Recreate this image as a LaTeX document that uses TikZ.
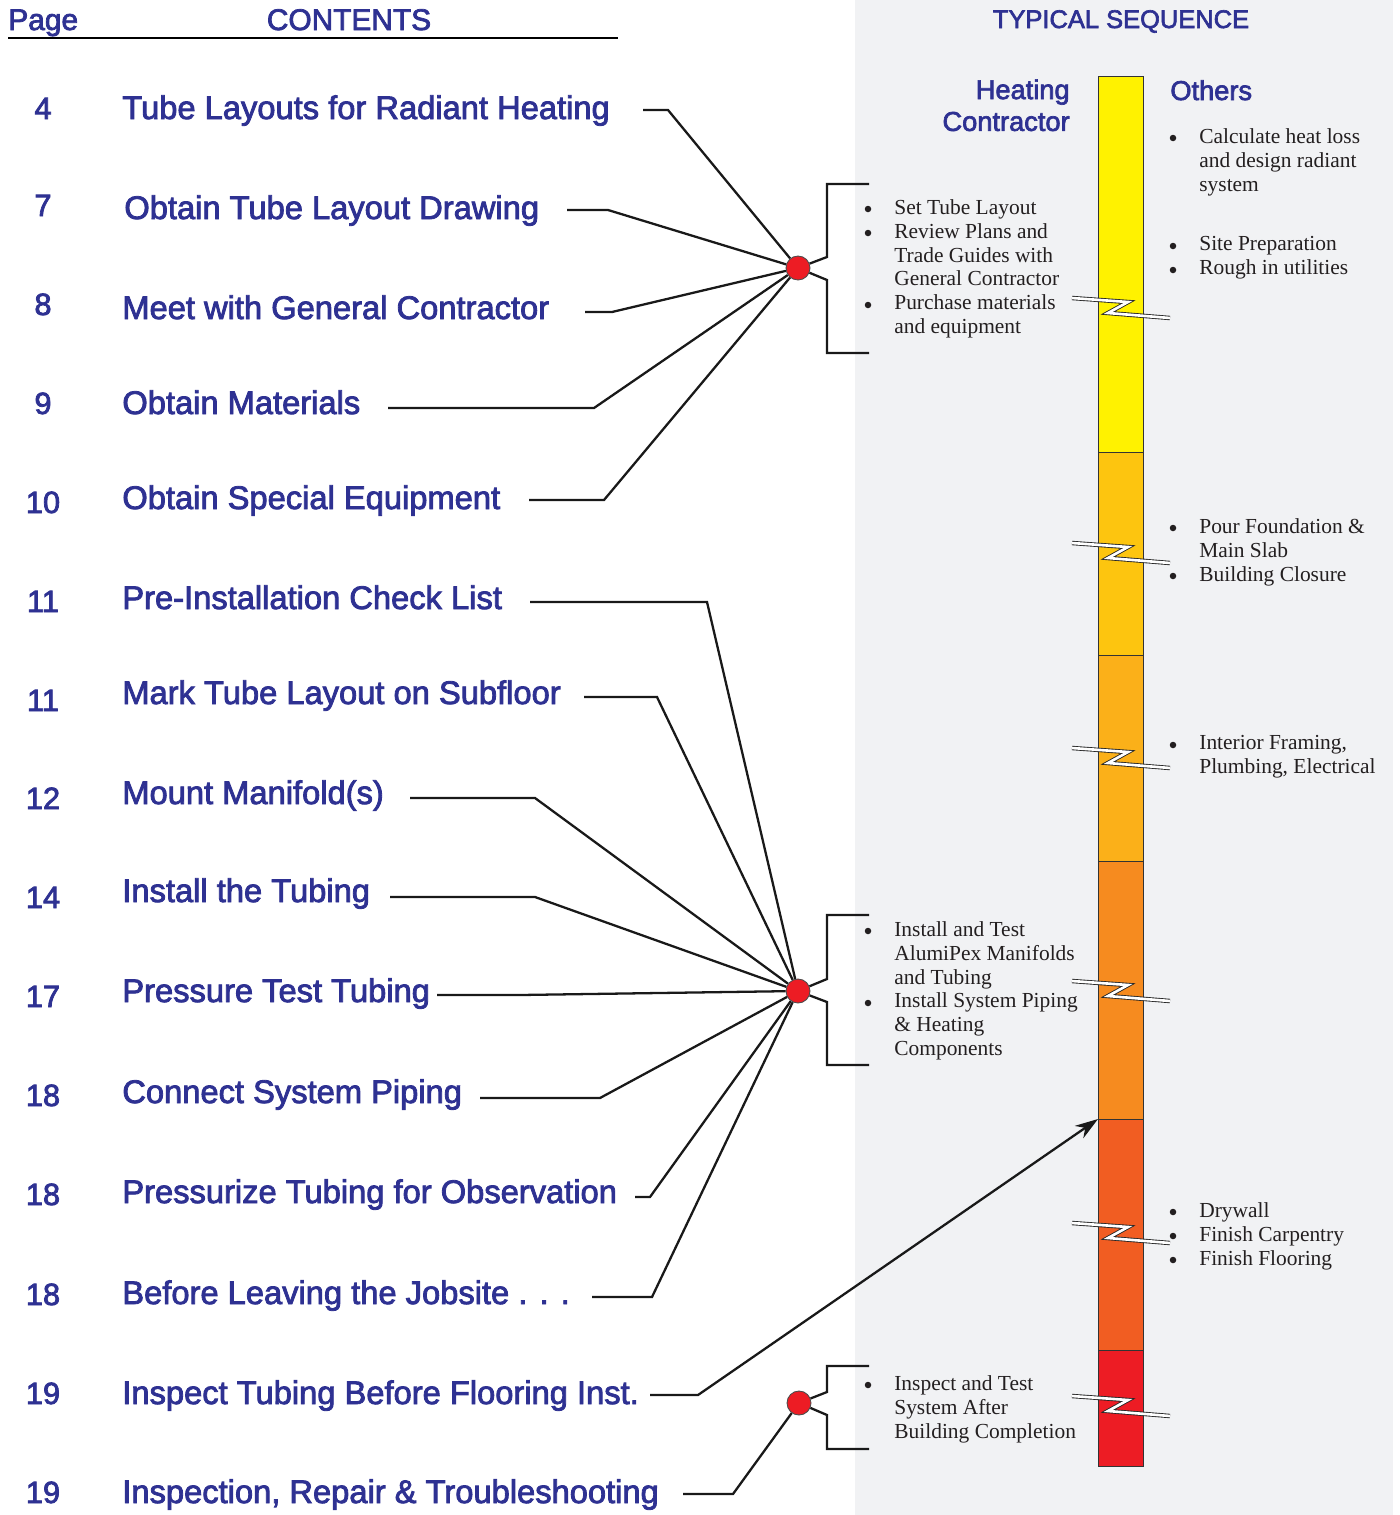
\documentclass[tikz,border=0pt]{standalone}
\usepackage{fontspec}
\setmainfont{Liberation Sans}
\newfontfamily\bluefont{Liberation Sans}[FakeBold=2.5]
\newfontfamily\listfont{Liberation Serif}
\usepackage{tikz}
\usetikzlibrary{arrows.meta}

\definecolor{ablue}{HTML}{2E3192}
\definecolor{notegray}{HTML}{231F20}
\definecolor{panelgray}{HTML}{F1F2F4}
\definecolor{hubred}{HTML}{ED1C24}
\definecolor{segA}{HTML}{FFF200}
\definecolor{segB}{HTML}{FDC50F}
\definecolor{segC}{HTML}{FBB019}
\definecolor{segD}{HTML}{F68B1F}
\definecolor{segE}{HTML}{F15D22}
\definecolor{segF}{HTML}{ED1C24}

\begin{document}
\begin{tikzpicture}[x=0.02cm, y=-0.02cm,
    head/.style={text=ablue, font=\bluefont\fontsize{17}{20}\selectfont, inner sep=0pt},
    colhead/.style={text=ablue, font=\bluefont\fontsize{15.5}{18.1}\selectfont, inner sep=0pt},
    pagenum/.style={text=ablue, font=\bluefont\fontsize{17.5}{20}\selectfont, anchor=base, inner sep=0pt},
    topic/.style={text=ablue, font=\bluefont\fontsize{18.6}{21}\selectfont, anchor=base west, inner sep=0pt},
    wire/.style={line width=1.3pt, black!90},
    hub/.style={circle, fill=hubred, draw=black!70, line width=0.5pt, minimum size=0.48cm, inner sep=0pt},
    notes/.style={text=notegray, font=\listfont\fontsize{12.2}{13.6}\selectfont, align=left, anchor=north west, inner sep=0pt},
    seg/.style={draw=black!80, line width=0.5pt},
    breakmark/.style={draw=black!85, line width=0.5pt, double=white, double distance=1.5pt}]
    \useasboundingbox (0,0) rectangle (1400,1515);

    % Background panel
    \fill[panelgray] (855,0) rectangle (1393,1515);

    % Headings
    \node[head, anchor=base west] (pagehd) at (8,30) {Page};
    \node[head, anchor=base] (conthd) at (349,30) {CONTENTS};
    \draw[line width=1.1pt] (8,38) -- (618,38);
    \node[head, font=\bluefont\fontsize{14.5}{17}\selectfont, anchor=base] (seqhd) at (1121,28) {TYPICAL SEQUENCE};
    \node[colhead, align=right, anchor=north east] (heathd) at (1070,79) {Heating\\Contractor};
    \node[colhead, anchor=base west] (othhd) at (1170,100) {Others};

    % Hubs
    \node[hub] (hub1) at (798,268) {};
    \node[hub] (hub2) at (798,991) {};
    \node[hub] (hub3) at (799,1403) {};

    % Contents rows
    \node[pagenum] (p1) at (43,119) {4};
    \node[topic] (t1) at (122,119) {Tube Layouts for Radiant Heating};
    \coordinate (s1) at (643,110); \coordinate (k1) at (668,110);
    \draw[wire] (s1) -- (k1) -- (hub1);

    \node[pagenum] (p2) at (43,216) {7};
    \node[topic] (t2) at (124,219) {Obtain Tube Layout Drawing};
    \coordinate (s2) at (567,210); \coordinate (k2) at (608,210);
    \draw[wire] (s2) -- (k2) -- (hub1);

    \node[pagenum] (p3) at (43,315) {8};
    \node[topic] (t3) at (122,319) {Meet with General Contractor};
    \coordinate (s3) at (585,312); \coordinate (k3) at (612,312);
    \draw[wire] (s3) -- (k3) -- (hub1);

    \node[pagenum] (p4) at (43,414) {9};
    \node[topic] (t4) at (122,414) {Obtain Materials};
    \coordinate (s4) at (388,408); \coordinate (k4) at (594,408);
    \draw[wire] (s4) -- (k4) -- (hub1);

    \node[pagenum] (p5) at (43,513) {10};
    \node[topic] (t5) at (122,509) {Obtain Special Equipment};
    \coordinate (s5) at (529,500); \coordinate (k5) at (604,500);
    \draw[wire] (s5) -- (k5) -- (hub1);

    \node[pagenum] (p6) at (43,612) {11};
    \node[topic] (t6) at (122,609) {Pre-Installation Check List};
    \coordinate (s6) at (530,602); \coordinate (k6) at (707,602);
    \draw[wire] (s6) -- (k6) -- (hub2);

    \node[pagenum] (p7) at (43,711) {11};
    \node[topic] (t7) at (122,704) {Mark Tube Layout on Subfloor};
    \coordinate (s7) at (584,697); \coordinate (k7) at (657,697);
    \draw[wire] (s7) -- (k7) -- (hub2);

    \node[pagenum] (p8) at (43,809) {12};
    \node[topic] (t8) at (122,804) {Mount Manifold(s)};
    \coordinate (s8) at (410,798); \coordinate (k8) at (535,798);
    \draw[wire] (s8) -- (k8) -- (hub2);

    \node[pagenum] (p9) at (43,908) {14};
    \node[topic] (t9) at (122,902) {Install the Tubing};
    \coordinate (s9) at (390,897); \coordinate (k9) at (535,897);
    \draw[wire] (s9) -- (k9) -- (hub2);

    \node[pagenum] (p10) at (43,1007) {17};
    \node[topic] (t10) at (122,1002) {Pressure Test Tubing};
    \coordinate (s10) at (437,995); \coordinate (k10) at (520,995);
    \draw[wire] (s10) -- (k10) -- (hub2);

    \node[pagenum] (p11) at (43,1106) {18};
    \node[topic] (t11) at (122,1103) {Connect System Piping};
    \coordinate (s11) at (480,1098); \coordinate (k11) at (600,1098);
    \draw[wire] (s11) -- (k11) -- (hub2);

    \node[pagenum] (p12) at (43,1205) {18};
    \node[topic] (t12) at (122,1203) {Pressurize Tubing for Observation};
    \coordinate (s12) at (635,1197); \coordinate (k12) at (650,1197);
    \draw[wire] (s12) -- (k12) -- (hub2);

    \node[pagenum] (p13) at (43,1305) {18};
    \node[topic] (t13) at (122,1304) {Before Leaving the Jobsite . . .};
    \coordinate (s13) at (592,1297); \coordinate (k13) at (652,1297);
    \draw[wire] (s13) -- (k13) -- (hub2);

    \node[pagenum] (p14) at (43,1404) {19};
    \node[topic] (t14) at (122,1404) {Inspect Tubing Before Flooring Inst.};
    \coordinate (s14) at (650,1395); \coordinate (k14) at (698,1395);
    \coordinate (barjoin) at (1098,1119);
    \draw[wire, -{Stealth[length=0.46cm, width=0.3cm]}] (s14) -- (k14) -- (barjoin);

    \node[pagenum] (p15) at (43,1503) {19};
    \node[topic] (t15) at (122,1503) {Inspection, Repair \& Troubleshooting};
    \coordinate (s15) at (683,1494); \coordinate (k15) at (733,1494);
    \draw[wire] (s15) -- (k15) -- (hub3);

    % Brackets
    \coordinate (j1a) at (827,257); \coordinate (e1a) at (869,184);
    \coordinate (j1b) at (827,280); \coordinate (e1b) at (869,353);
    \draw[wire] (hub1) -- (j1a) |- (e1a);
    \draw[wire] (hub1) -- (j1b) |- (e1b);
    \coordinate (j2a) at (827,979); \coordinate (e2a) at (869,915);
    \coordinate (j2b) at (827,1002); \coordinate (e2b) at (869,1065);
    \draw[wire] (hub2) -- (j2a) |- (e2a);
    \draw[wire] (hub2) -- (j2b) |- (e2b);
    \coordinate (j3a) at (827,1392); \coordinate (e3a) at (869,1366);
    \coordinate (j3b) at (827,1415); \coordinate (e3b) at (869,1449);
    \draw[wire] (hub3) -- (j3a) |- (e3a);
    \draw[wire] (hub3) -- (j3b) |- (e3b);

    % Sequence bar
    \draw[seg, fill=segA] (1098,76) rectangle (1143,452);
    \draw[seg, fill=segB] (1098,452) rectangle (1143,655);
    \draw[seg, fill=segC] (1098,655) rectangle (1143,861);
    \draw[seg, fill=segD] (1098,861) rectangle (1143,1119);
    \draw[seg, fill=segE] (1098,1119) rectangle (1143,1350);
    \draw[seg, fill=segF] (1098,1350) rectangle (1143,1466);
    \foreach \y in {308,553,758,991,1233,1406}
        \draw[breakmark] (1072,\y-10) -- (1128,\y-6) -- (1108,\y+5) -- (1170,\y+10);

    % Heating contractor notes
    \node[notes] (hc1) at (894,199) {Set Tube Layout\\Review Plans and\\Trade Guides with\\General Contractor\\Purchase materials\\and equipment};
    \node[notes] (hc2) at (894,921) {Install and Test\\AlumiPex Manifolds\\and Tubing\\Install System Piping\\\& Heating\\Components};
    \node[notes] (hc3) at (894,1375) {Inspect and Test\\System After\\Building Completion};
    \foreach \y in {209,233,305,931,1003,1385}
        \fill[notegray] (868,\y) circle (0.065cm);

    % Others notes
    \node[notes] (ot1) at (1199,128) {Calculate heat loss\\and design radiant\\system};
    \node[notes] (ot2) at (1199,236) {Site Preparation\\Rough in utilities};
    \node[notes] (ot3) at (1199,518) {Pour Foundation \&\\Main Slab\\Building Closure};
    \node[notes] (ot4) at (1199,735) {Interior Framing,\\Plumbing, Electrical};
    \node[notes] (ot5) at (1199,1202) {Drywall\\Finish Carpentry\\Finish Flooring};
    \foreach \y in {138,246,270,528,576,745,1212,1236,1260}
        \fill[notegray] (1173,\y) circle (0.065cm);
\end{tikzpicture}
\end{document}
